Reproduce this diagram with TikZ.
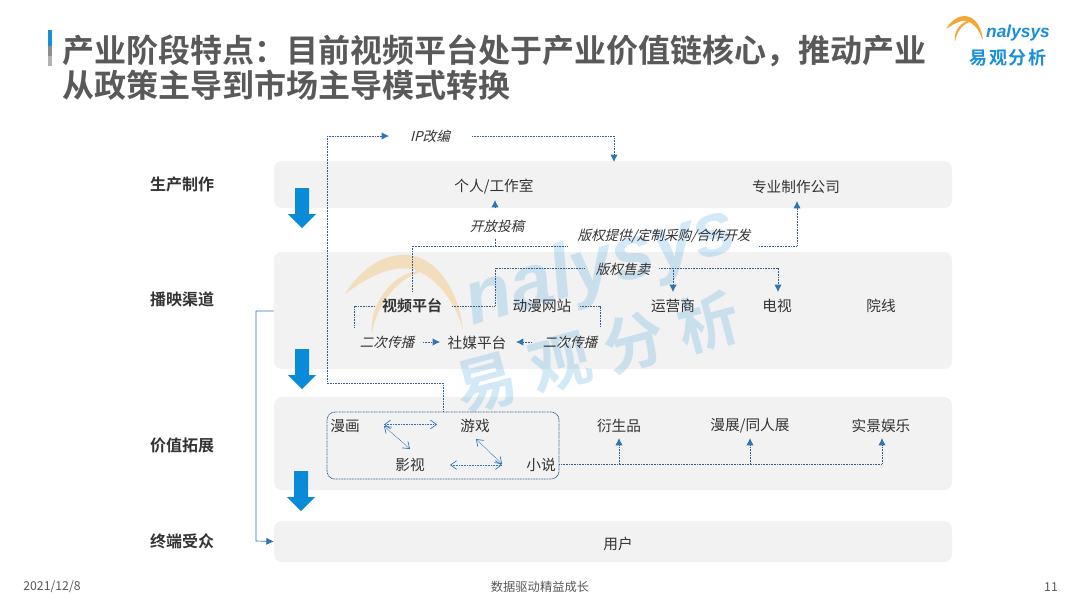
\documentclass[tikz,border=0pt]{standalone}
\usepackage{fontspec}
\usetikzlibrary{arrows.meta,calc,shapes.geometric}
\setmainfont{Liberation Sans}
\newfontfamily\cjk{Noto Sans CJK SC}[BoldFont={Noto Sans CJK SC Bold}]
\newfontfamily\cjkit{Noto Sans CJK SC}[FakeSlant=0.25]
\newfontfamily\cjkwide{Noto Sans CJK SC Bold}[LetterSpace=25]
\newfontfamily\cjklogo{Noto Sans CJK SC Bold}[LetterSpace=8]
\definecolor{bandgray}{HTML}{F2F2F2}
\definecolor{txt}{HTML}{333333}
\definecolor{titlec}{HTML}{595959}
\definecolor{dotc}{HTML}{2F5F8F}
\definecolor{arrc}{HTML}{2E75B6}
\definecolor{blockc}{HTML}{0A8BD8}
\definecolor{logob}{HTML}{1B8FD6}
\definecolor{logoo}{HTML}{F5A733}
\newcommand{\swooshshape}{%
  (345,294) .. controls (365,262) and (395,248) .. (420,258) .. controls (445,268) and (460,300) .. (463,330) .. controls (455,300) and (435,277) .. (415,270) .. controls (395,264) and (370,275) .. cycle
  (372,334) .. controls (368,305) and (395,268) .. (425,271) .. controls (398,276) and (376,305) .. cycle}
\tikzset{
  band/.style={fill=bandgray,rounded corners=6pt,inner sep=0pt,minimum width=508.5pt},
  lbl/.style={inner sep=0pt,text=txt,yshift=-.75pt,font=\cjk\fontsize{11pt}{13pt}\selectfont},
  lblb/.style={lbl,font=\cjk\bfseries\fontsize{11.25pt}{13pt}\selectfont},
  rowl/.style={lbl,font=\cjk\bfseries\fontsize{12pt}{14pt}\selectfont},
  itl/.style={inner sep=0pt,text=txt,font=\cjkit\fontsize{10.15pt}{12pt}\selectfont},
  foot/.style={inner sep=0pt,text=titlec,font=\cjk\fontsize{9.2pt}{11pt}\selectfont},
  ttl/.style={inner sep=0pt,anchor=west,text=titlec,font=\cjk\bfseries\fontsize{24pt}{28pt}\selectfont},
  dotl/.style={draw=dotc,line width=.6pt,dash pattern=on .7pt off .5pt},
  darr/.style={dotl,-{Latex[length=5.5pt,width=5.5pt,color=arrc]}},
  dbl/.style={draw=arrc,line width=.45pt,dash pattern=on .7pt off .5pt,{Straight Barb[length=4.5pt,width=6.5pt,color=arrc,line width=.5pt]}-{Straight Barb[length=4.5pt,width=6.5pt,color=arrc,line width=.5pt]}},
  blockarrow/.style={fill=blockc,draw=none},
  wm/.style={inner sep=0pt,text=logob,opacity=.19},
}
\begin{document}
\begin{tikzpicture}[x=.75pt,y=-.75pt]
\useasboundingbox (0,0) rectangle (1080,608);
\fill[white] (0,0) rectangle (1080,608);
% title
\fill[logob] (48,30) rectangle (52,46);
\fill[gray!90] (48,46) rectangle (52,56);
\fill[gray!60] (48,56) rectangle (52,66);
\node[ttl] (t1) at (62,51) {产业阶段特点：目前视频平台处于产业价值链核心，推动产业};
\node[ttl] (t2) at (62,85) {从政策主导到市场主导模式转换};
% logo
\begin{scope}[shift={(843.5,-60)},scale=.3]
\fill[logoo,draw=logoo,line width=.5pt] \swooshshape;
\end{scope}
\node[inner sep=0pt,text=logob,font=\itshape\bfseries\fontsize{13pt}{15pt}\selectfont] (logoa) at (1018,33) {nalysys};
\node[inner sep=0pt,text=logob,font=\cjklogo\fontsize{13.5pt}{16pt}\selectfont] (logoc) at (1008,58) {易观分析};
% bands
\node[band,minimum height=35.25pt] (b1) at (613,184.5) {};
\node[band,minimum height=87.75pt] (b2) at (613,310.5) {};
\node[band,minimum height=69.75pt] (b3) at (613,443.5) {};
\node[band,minimum height=30.75pt] (b4) at (613,541.5) {};
% watermark
\fill[logoo,opacity=.28] \swooshshape;
\node[wm,rotate=16,font=\itshape\bfseries\fontsize{57pt}{66pt}\selectfont] (wm1) at (601,268) {nalysys};
\node[wm,rotate=15,font=\cjkwide\fontsize{46pt}{50pt}\selectfont] (wm2) at (597,352) {易观分析};
% block arrows
\foreach \cx/\ty/\by in {302/188/228,302/349/389,301/471/511}{
  \fill[blockarrow] (\cx-7,\ty) -- (\cx+7,\ty) -- (\cx+7,\by-14) -- (\cx+14,\by-14) -- (\cx,\by) -- (\cx-14,\by-14) -- (\cx-7,\by-14) -- cycle;
}
% row labels
\node[rowl] (r1) at (182,183) {生产制作};
\node[rowl] (r2) at (182,298) {播映渠道};
\node[rowl] (r3) at (182,444) {价值拓展};
\node[rowl] (r4) at (182,540) {终端受众};
% nodes
\node[itl] (ip) at (430,136) {IP改编};
\node[lbl] (gr) at (494,186) {个人/工作室};
\node[lbl] (zy) at (796,186) {专业制作公司};
\node[itl] (kf) at (497,226) {开放投稿};
\node[itl] (bq) at (664,236) {版权提供/定制采购/合作开发};
\node[itl] (bs) at (623,269) {版权售卖};
\node[lblb] (sp) at (412,305) {视频平台};
\node[lbl] (dm) at (542,305) {动漫网站};
\node[lbl] (yy) at (673,305) {运营商};
\node[lbl] (ds) at (777,305) {电视};
\node[lbl] (yx) at (881,305) {院线};
\node[itl] (e1) at (387,342) {二次传播};
\node[lbl] (sm) at (477,342) {社媒平台};
\node[itl] (e2) at (570,342) {二次传播};
\node[lbl] (mh) at (345,425) {漫画};
\node[lbl] (yxi) at (475,425) {游戏};
\node[lbl] (ysh) at (410,464) {影视};
\node[lbl] (xs) at (541,464) {小说};
\node[lbl] (ysp) at (619,425) {衍生品};
\node[lbl] (mz) at (750,425) {漫展/同人展};
\node[lbl] (sj) at (881,425) {实景娱乐};
\node[lbl] (yh) at (618,543) {用户};
% group box
\node[dotl,draw,rounded corners=6pt,inner sep=0pt,minimum width=174pt,minimum height=50.25pt] (grp) at (443,445.5) {};
% junctions
\coordinate (ipL) at (389,136);
\coordinate (ipR) at (472,136);
\coordinate (ipD) at (614,162);
\coordinate (kfBar) at (495,246);
\coordinate (kfUp) at (495,200);
\coordinate (kfEnd) at (567,246);
\coordinate (bqS) at (759,246);
\coordinate (bqT) at (797,201);
\coordinate (bsL) at (585,268);
\coordinate (bsR) at (659,268);
\coordinate (spR) at (452,306);
\coordinate (spL) at (375,306);
\coordinate (dmR) at (580,306);
\coordinate (bL) at (354,327);
\coordinate (bR) at (600,327);
\coordinate (xsBar) at (882,464);
% connectors
\draw[dotl] (grp.north) -- (443,383) -- (327,383) -- (327,136);
\draw[darr] (327,136) -- (ipL);
\draw[darr] (ipR) -- (614,136) -- (ipD);
\draw[dotl] (412.5,292) -- (412.5,246) -- (kfEnd);
\draw[dotl] (kfBar) -- (495,238);
\draw[darr] (495,208) -- (kfUp);
\draw[darr] (bqS) -- (797,246) -- (bqT);
\draw[dotl] (spR) -- (495,306) -- (495,268) -- (bsL);
\draw[darr] (bsR) -- (778,268) -- (778,292);
\draw[darr] (673,268) -- (673,292);
\draw[dotl] (spL) -- (354,306) -- (bL);
\draw[dotl] (dmR) -- (600,306) -- (bR);
\draw[darr] (423,342) -- (440,342);
\draw[darr] (532,342) -- (516,342);
\draw[dbl] (384,424.5) -- (437,424.5);
\draw[dbl] (384,426) -- (410,449);
\draw[dbl] (450,465) -- (502,465);
\draw[dbl] (476,439) -- (502,464);
\draw[dotl] (grp.east |- xsBar) -- (xsBar);
\draw[darr] (619,464) -- (619,438);
\draw[darr] (750,464) -- (750,438);
\draw[darr] (xsBar) -- (882,438);
\draw[draw=arrc,line width=.5pt,-{Latex[length=5.5pt,width=5.5pt,color=arrc]}] (b2.west |- 0,311) -- (256,311) -- (256,541) -- (b4.west);
% footer
\node[foot] (f1) at (52,587) {2021/12/8};
\node[foot] (f2) at (540,587) {数据驱动精益成长};
\node[foot] (f3) at (1051,587) {11};
\end{tikzpicture}
\end{document}
